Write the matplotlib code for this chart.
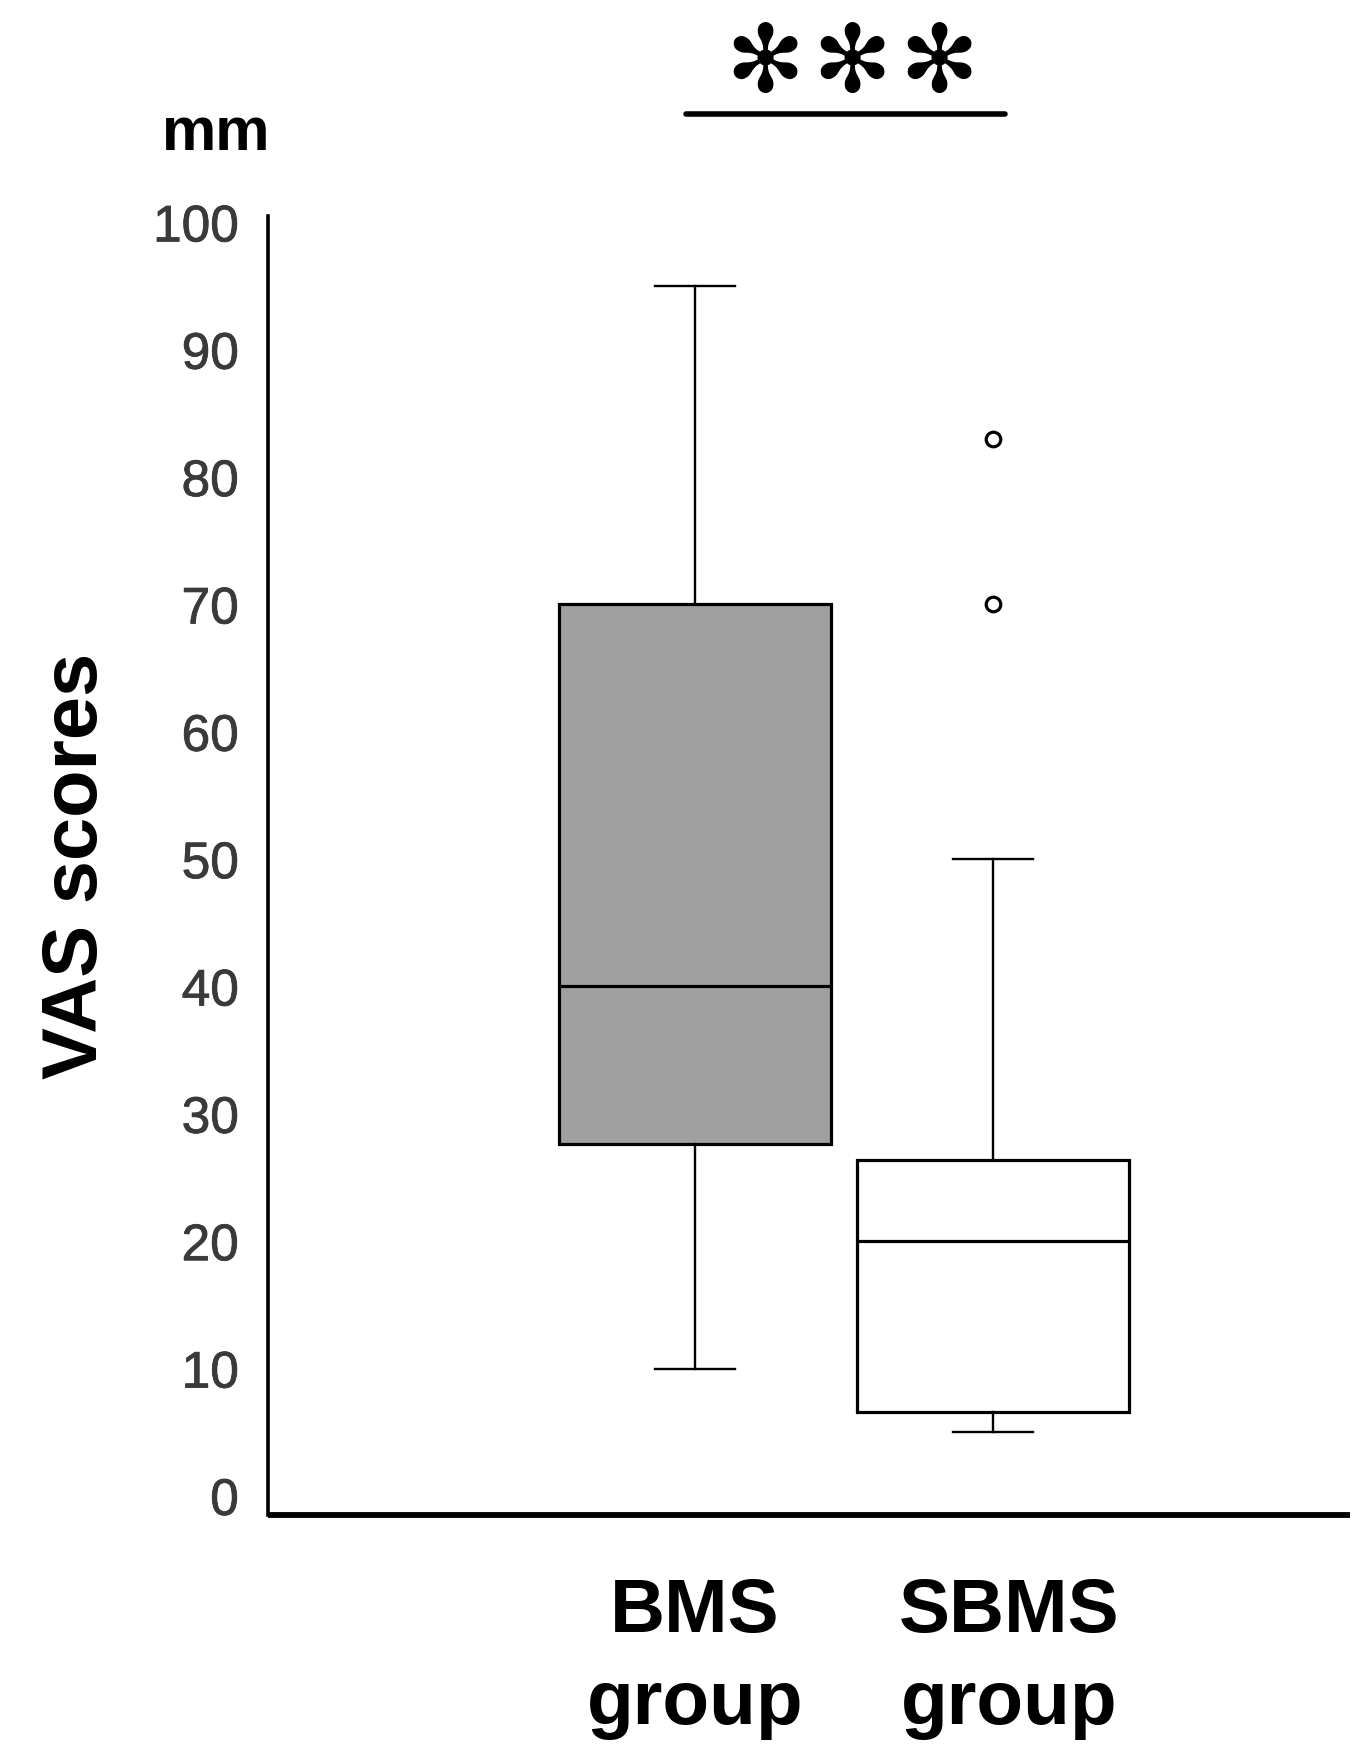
import matplotlib
matplotlib.use("Agg")
import matplotlib.pyplot as plt
import matplotlib.patheffects as pe
from matplotlib.transforms import ScaledTranslation

# ---- data ----
groups = ["BMS\ngroup", "SBMS\ngroup"]
whisker_low = [10, 5]
q1 = [27.6, 6.6]
median = [40, 20]
q3 = [70, 26.4]
whisker_high = [95, 50]
outliers = [[], [70, 83]]
box_colors = ["#a0a0a0", "#ffffff"]
yticks = [0, 10, 20, 30, 40, 50, 60, 70, 80, 90, 100]
ylabel = "VAS scores"
unit_label = "mm"
sig_symbol = "✻"
sig_count = 3

plt.rcParams["font.family"] = ["Liberation Sans", "DejaVu Sans"]

fig = plt.figure(figsize=(13.67, 17.65), dpi=100)
ax = fig.add_axes([268 / 1367, 1 - 1516 / 1765, (1350 - 268) / 1367, (1516 - 217) / 1765])

positions = list(range(1, len(groups) + 1))
stats = []
for i, g in enumerate(groups):
    stats.append(dict(label=g, whislo=whisker_low[i], q1=q1[i], med=median[i],
                      q3=q3[i], whishi=whisker_high[i], fliers=outliers[i]))

bp = ax.bxp(stats, positions=positions, widths=0.91, capwidths=0.27,
            patch_artist=True,
            boxprops=dict(linewidth=2.3, edgecolor="black"),
            medianprops=dict(color="black", linewidth=2.3),
            whiskerprops=dict(color="black", linewidth=1.7),
            capprops=dict(color="black", linewidth=1.7),
            flierprops=dict(marker="o", markersize=10.5, markerfacecolor="white",
                            markeredgecolor="black", markeredgewidth=2.3))
for patch, c in zip(bp["boxes"], box_colors):
    patch.set_facecolor(c)

ax.set_xlim(-0.433, 3.198)
ax.set_ylim(-1.5, 100.5)
ax.set_yticks(yticks)
ax.set_yticklabels([str(v) for v in yticks], fontsize=37, color="#3a3a3a")
for lab in ax.get_yticklabels():
    lab.set_path_effects([pe.withStroke(linewidth=0.6, foreground="#3a3a3a")])
ax.set_xticks(positions)
ax.set_xticklabels(groups, fontsize=55, fontweight="bold", color="black",
                   linespacing=1.38)
ax.tick_params(axis="y", length=0, pad=21)
ax.tick_params(axis="x", length=0, pad=44)
for lab in ax.get_xticklabels()[1:]:
    lab.set_transform(lab.get_transform() + ScaledTranslation(16 / 100, 0, fig.dpi_scale_trans))

for s in ["top", "right"]:
    ax.spines[s].set_visible(False)
ax.spines["left"].set_linewidth(2.6)
ax.spines["bottom"].set_linewidth(4.2)
ax.spines["bottom"].set_capstyle("butt")

# significance bar
ax.plot([positions[0] - 0.03, positions[1] + 0.04], [108.5, 108.5], color="black",
        linewidth=4, clip_on=False, solid_capstyle="round")
mid = (positions[0] + positions[1]) / 2 + 0.027
for k in range(sig_count):
    ax.text(mid + (k - (sig_count - 1) / 2) * 0.292, 112.4, sig_symbol,
            ha="center", va="center", fontsize=68, family="DejaVu Sans",
            color="black", clip_on=False)

fig.text(77 / 1367, 1 - 866 / 1765, ylabel, rotation=90, ha="center", va="center",
         fontsize=56, fontweight="bold", color="black")
fig.text(216 / 1367, 1 - 150 / 1765, unit_label, ha="center", va="baseline",
         fontsize=44, fontweight="bold", color="black")

fig.savefig("out.png", dpi=100, facecolor="white")
